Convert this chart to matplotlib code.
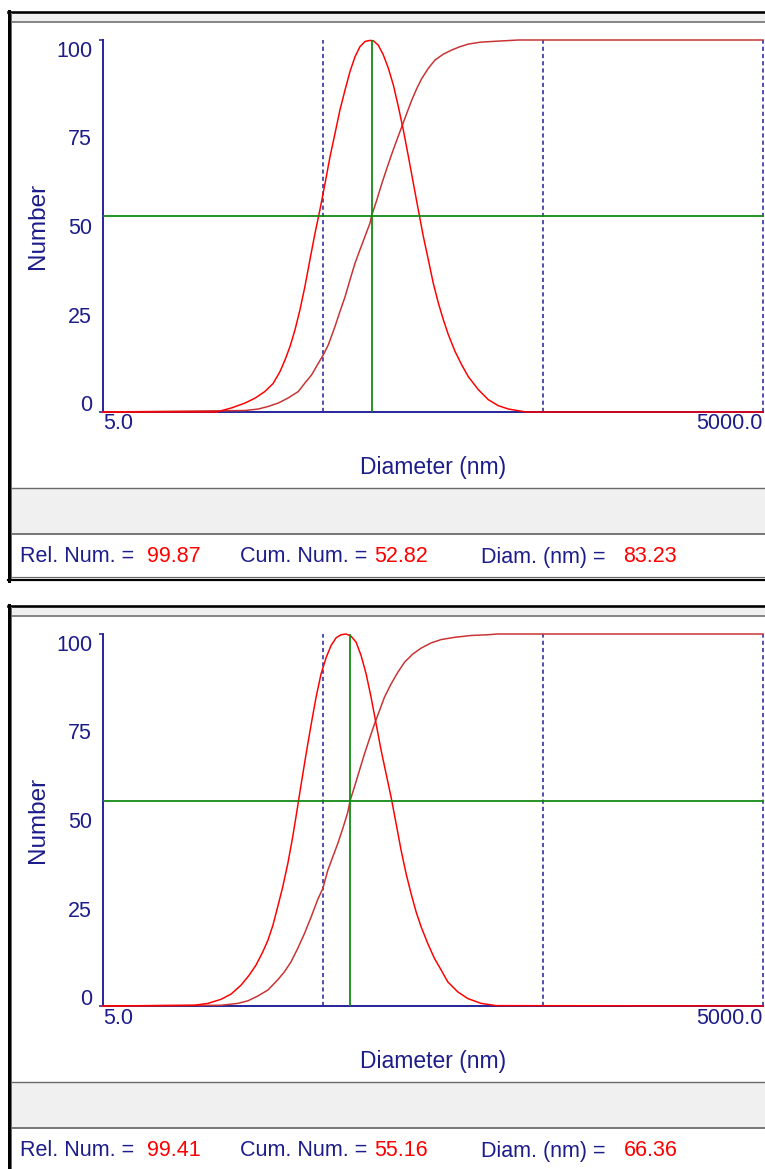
import matplotlib
matplotlib.use('Agg')
import matplotlib.pyplot as plt
from matplotlib.patches import Rectangle
from matplotlib.ticker import FixedLocator, NullFormatter, FixedFormatter

plt.rcParams['font.family'] = ['Liberation Sans', 'DejaVu Sans']
plt.rcParams['lines.scale_dashes'] = False

# ---------------- data ----------------
# Panel 1 : relative number distribution
p1_rel_diam = [5.0, 16.4, 19.2, 22.1, 24.5, 27.2, 29.7, 31.9, 33.6, 35.4, 37.3, 39.3,
               41.4, 43.6, 46.0, 48.4, 51.1, 53.8, 56.7, 59.7, 63.0, 66.3, 69.9,
               73.6, 77.6, 81.8, 84.7, 89.2, 94.0, 99.1, 104.4, 110.0, 115.9, 122.2,
               128.7, 135.6, 142.9, 150.6, 158.6, 167.2, 176.2, 185.6, 199.1, 213.4,
               228.8, 254.1, 282.2, 313.3, 347.8, 400.0, 420.0, 5000.0]
p1_rel_val = [0, 0, 1.1, 2.4, 3.7, 5.5, 7.7, 10.9, 14.0, 17.6, 22.1, 27.5,
              33.8, 40.9, 48.1, 54.3, 61.5, 68.6, 74.9, 81.2, 86.6, 91.5, 95.5,
              98.2, 99.6, 99.9, 99.8, 98.6, 96.0, 92.4, 87.9, 82.1, 75.8, 68.7,
              61.5, 54.3, 47.2, 40.9, 34.6, 29.3, 24.8, 20.8, 16.3, 12.7,
              9.5, 6.0, 3.3, 1.7, 0.8, 0.2, 0, 0]
# Panel 1 : cumulative number
p1_cum_diam = [5.0, 22.1, 25.4, 28.2, 31.3, 34.8, 38.6, 41.4, 44.4, 47.6, 50.2, 52.9,
               56.7, 59.7, 63.0, 66.3, 69.9, 73.6, 77.6, 81.8, 83.2, 87.7, 92.4,
               97.3, 102.6, 108.1, 113.9, 120.0, 126.5, 133.3, 140.4, 150.6, 161.4,
               176.2, 192.2, 209.7, 228.8, 258.6, 292.2, 336.0, 386.0, 5000.0]
p1_cum_val = [0, 0.4, 0.8, 1.5, 2.4, 3.8, 5.5, 7.8, 10.0, 13.1, 15.4, 18.1,
              23.0, 27.0, 31.0, 35.5, 40.0, 43.6, 47.2, 50.8, 52.8, 56.9, 61.3,
              65.3, 69.3, 73.0, 76.6, 80.2, 83.8, 86.9, 89.6, 92.4, 94.6,
              96.2, 97.3, 98.2, 98.9, 99.4, 99.6, 99.8, 100, 100]
p1_readout = [99.87, 52.82, 83.23]   # Rel. Num., Cum. Num., Diam. (nm)

# Panel 2 : relative number distribution
p2_rel_diam = [5.0, 13.0, 15.0, 17.2, 19.1, 21.2, 23.1, 24.8, 26.6, 28.1, 29.6, 31.1,
               32.8, 34.6, 36.4, 38.1, 39.8, 41.9, 44.2, 46.5, 49.0, 51.7, 54.4,
               57.4, 60.4, 63.7, 67.1, 70.7, 74.5, 78.5, 82.7, 87.2, 91.9, 96.8,
               102.0, 107.5, 113.2, 119.3, 125.7, 132.5, 139.6, 149.7, 160.5, 172.1,
               184.5, 204.9, 227.5, 261.6, 306.0, 5000.0]
p2_rel_val = [0, 0.2, 0.7, 1.8, 3.2, 5.6, 8.3, 11.0, 14.5, 17.7, 21.7, 26.6,
              32.0, 38.3, 45.4, 52.6, 59.7, 67.8, 75.8, 83.0, 89.3, 93.7, 96.9,
              99.0, 99.8, 100, 99.4, 97.8, 94.2, 89.3, 83.0, 75.8, 68.7, 62.4,
              56.1, 49.0, 41.9, 35.6, 30.2, 25.3, 21.3, 16.8, 12.8, 9.7,
              6.5, 3.8, 2.0, 0.7, 0.1, 0]
# Panel 2 : cumulative number
p2_cum_diam = [5.0, 17.2, 20.5, 22.8, 25.3, 28.1, 31.1, 33.4, 35.8, 38.4, 41.2, 44.2,
               47.3, 49.9, 52.6, 55.4, 58.3, 61.5, 64.8, 66.4, 69.5, 73.2, 77.2,
               81.3, 85.7, 90.3, 95.1, 102.0, 109.4, 117.3, 127.9, 139.6, 155.0,
               172.1, 197.9, 235.6, 280.5, 311.4, 5000.0]
p2_cum_val = [0, 0.2, 0.7, 1.4, 2.7, 4.3, 7.0, 9.2, 11.9, 15.5, 19.5, 24.0,
              28.6, 31.6, 36.5, 40.1, 43.6, 47.7, 52.1, 55.2, 58.9, 63.3, 67.8,
              71.8, 75.8, 79.4, 83.0, 86.6, 89.7, 92.4, 94.6, 96.2, 97.6,
              98.5, 99.1, 99.6, 99.8, 100, 100]
p2_readout = [99.41, 55.16, 66.36]

guide_diams = [50.0, 500.0, 5000.0]
x_ticks = [5.0, 5000.0]
x_tick_labels = ['5.0', '5000.0']
y_ticks = [0, 25, 50, 75, 100]
y_tick_labels = ['0', '25', '50', '75', '100']
readout_names = ['Rel. Num. =', 'Cum. Num. =', 'Diam. (nm) =']

# ---------------- styling ----------------
W, H = 765, 1169
PX = 0.72  # points per pixel at dpi 100
NAVY_TXT = '#1c1c8a'
NAVY_LN = '#2a2a9c'
RED = '#ff0000'
DARKRED = '#c83232'
GREEN = '#138a13'
GRAY_BAND = '#f0f0f0'
GRAY_LN = '#6a6a6a'

fig = plt.figure(figsize=(W / 100, H / 100), dpi=100)
fig.patch.set_facecolor('white')

bg = fig.add_axes([0, 0, 1, 1], zorder=0)
bg.set_xlim(0, W)
bg.set_ylim(H, 0)
bg.axis('off')

panels = [
    (0, p1_rel_diam, p1_rel_val, p1_cum_diam, p1_cum_val, p1_readout),
    (594, p2_rel_diam, p2_rel_val, p2_cum_diam, p2_cum_val, p2_readout),
]

for off, rd, rv, cd, cv, readout in panels:
    # ---- window frame ----
    bg.add_patch(Rectangle((11, 13 + off), W, 8, fc=GRAY_BAND, ec='none'))
    bg.plot([11, W], [21.5 + off] * 2, color=GRAY_LN, lw=1.6 * PX)
    bg.add_patch(Rectangle((11, 488 + off), W, 45, fc=GRAY_BAND, ec='none'))
    bg.plot([11, W], [487.5 + off] * 2, color=GRAY_LN, lw=1.4 * PX)
    bg.plot([11, W], [533.5 + off] * 2, color=GRAY_LN, lw=1.8 * PX)
    bg.plot([11, W], [577.0 + off] * 2, color=GRAY_LN, lw=1.2 * PX)
    bg.plot([8, W], [579.5 + off] * 2, color='black', lw=2.2 * PX)
    bg.plot([8, W], [12.0 + off] * 2, color='black', lw=2.6 * PX)
    bg.plot([9.5, 9.5], [11 + off, 581 + off], color='black', lw=3 * PX)
    bg.plot([11.5, 11.5], [13 + off, 578 + off], color=GRAY_LN, lw=1.0 * PX)

    # ---- readout line ----
    name_x = [20, 240, 481]
    gaps = [9, 5, 13]
    for nx, gap, name, val in zip(name_x, gaps, readout_names, readout):
        t = bg.text(nx, 557 + off, name, color=NAVY_TXT, fontsize=15.5,
                    va='center', ha='left')
        bg.annotate(f'{val:.2f}', xy=(1, 0.5), xycoords=t,
                    xytext=(gap, 0), textcoords='offset points',
                    color=RED, fontsize=15.5, va='center', ha='left')

    # ---- plot axes ----
    ax = fig.add_axes([103 / W, 1 - (412 + off) / H, 660 / W, 372 / H], zorder=1)
    ax.set_facecolor('none')
    ax.set_xscale('log')
    ax.set_xlim(5, 5000)
    ax.set_ylim(0, 100)

    for d in guide_diams:
        ax.axvline(d, color=NAVY_LN, lw=1.6 * PX, ls=(0, (3.0, 2.2)),
                   zorder=1.5, clip_on=False)

    ax.plot(cd, cv, color=DARKRED, lw=1.5 * PX, zorder=3, clip_on=False)
    ax.plot(rd, rv, color=RED, lw=1.5 * PX, zorder=3.1, clip_on=False)

    diam, cum = readout[2], readout[1]
    ax.axvline(diam, color=GREEN, lw=1.8 * PX, zorder=4)
    ax.axhline(cum, color=GREEN, lw=1.8 * PX, zorder=4)

    for s in ['top', 'right']:
        ax.spines[s].set_visible(False)
    for s in ['left', 'bottom']:
        ax.spines[s].set_color(NAVY_LN)
        ax.spines[s].set_linewidth(2 * PX)

    # y ticks: labels spread slightly inside the axis range
    ax.yaxis.set_major_locator(FixedLocator([2.3 + v * 0.954 for v in y_ticks]))
    ax.yaxis.set_major_formatter(FixedFormatter(y_tick_labels))
    ax.yaxis.set_minor_locator(FixedLocator([0, 100]))
    ax.yaxis.set_minor_formatter(NullFormatter())
    ax.tick_params(axis='y', which='major', length=0, pad=11 * PX,
                   labelsize=15.5, labelcolor=NAVY_TXT)
    ax.tick_params(axis='y', which='minor', length=4 * PX, width=1.6 * PX,
                   color=NAVY_LN, direction='out')

    ax.xaxis.set_major_locator(FixedLocator(x_ticks))
    ax.xaxis.set_major_formatter(FixedFormatter(x_tick_labels))
    ax.xaxis.set_minor_locator(FixedLocator(x_ticks))
    ax.xaxis.set_minor_formatter(NullFormatter())
    ax.tick_params(axis='x', which='major', length=0, pad=1.5 * PX,
                   labelsize=15.5, labelcolor=NAVY_TXT)
    ax.tick_params(axis='x', which='minor', length=6 * PX, width=1.6 * PX,
                   color=NAVY_LN, direction='out')
    lbls = ax.get_xticklabels()
    lbls[0].set_ha('left')
    lbls[-1].set_ha('right')

    ax.set_xlabel('Diameter (nm)', fontsize=16.5, color=NAVY_TXT)
    ax.xaxis.set_label_coords(0.5, -0.118)
    ax.set_ylabel('Number', fontsize=17.5, color=NAVY_TXT)
    ax.yaxis.set_label_coords(-0.082, 0.5)

fig.savefig('out.png', dpi=100)
